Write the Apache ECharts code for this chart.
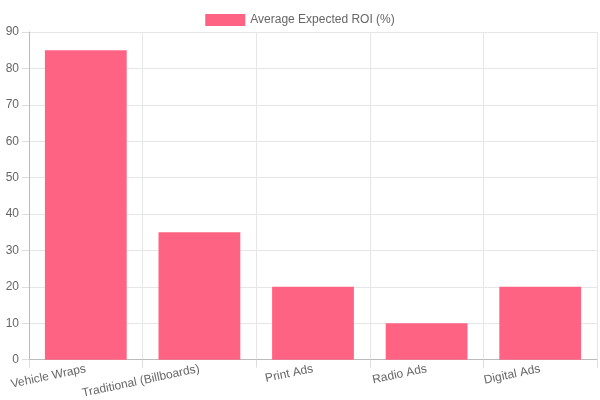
<!DOCTYPE html>
<html><head><meta charset="utf-8">
<script src="https://cdn.jsdelivr.net/npm/echarts@6/dist/echarts.min.js"></script>
<style>html,body{margin:0;padding:0;background:#fff}#c{width:600px;height:400px}</style>
</head><body><div id="c"></div>
<script>
const categories = ["Vehicle Wraps", "Traditional (Billboards)", "Print Ads", "Radio Ads", "Digital Ads"];
const roiValues = [85, 35, 20, 10, 20];
const seriesName = "Average Expected ROI (%)";

const chart = echarts.init(document.getElementById('c'), null, {renderer: 'canvas'});
const font = "'Liberation Sans', Arial, Helvetica, sans-serif";
chart.setOption({
  animation: false,
  textStyle: {fontFamily: font},
  legend: {
    top: 9, left: 'center', itemWidth: 40, itemHeight: 12, itemGap: 10,
    icon: 'rect',
    textStyle: {color: '#666', fontSize: 12, fontFamily: font},
    data: [seriesName]
  },
  grid: {left: 29, right: 3, top: 32, bottom: 40, containLabel: false},
  xAxis: {
    type: 'category', data: categories,
    axisLine: {lineStyle: {color: '#bbb'}},
    axisTick: {show: true, length: 8, lineStyle: {color: '#ddd'}},
    splitLine: {show: true, lineStyle: {color: '#e6e6e6'}},
    axisLabel: {rotate: 12, color: '#666', fontSize: 12, fontFamily: font, margin: 9, interval: 0}
  },
  yAxis: {
    type: 'value', min: 0, max: 90, interval: 10,
    axisLine: {show: true, lineStyle: {color: '#bbb'}},
    axisTick: {show: true, length: 7, lineStyle: {color: '#ddd'}},
    splitLine: {show: true, lineStyle: {color: '#e6e6e6'}},
    axisLabel: {color: '#666', fontSize: 12, fontFamily: font, margin: 10}
  },
  series: [{
    name: seriesName, type: 'bar', data: roiValues,
    barCategoryGap: '28%',
    itemStyle: {color: '#ff6384'}
  }]
});
</script></body></html>
